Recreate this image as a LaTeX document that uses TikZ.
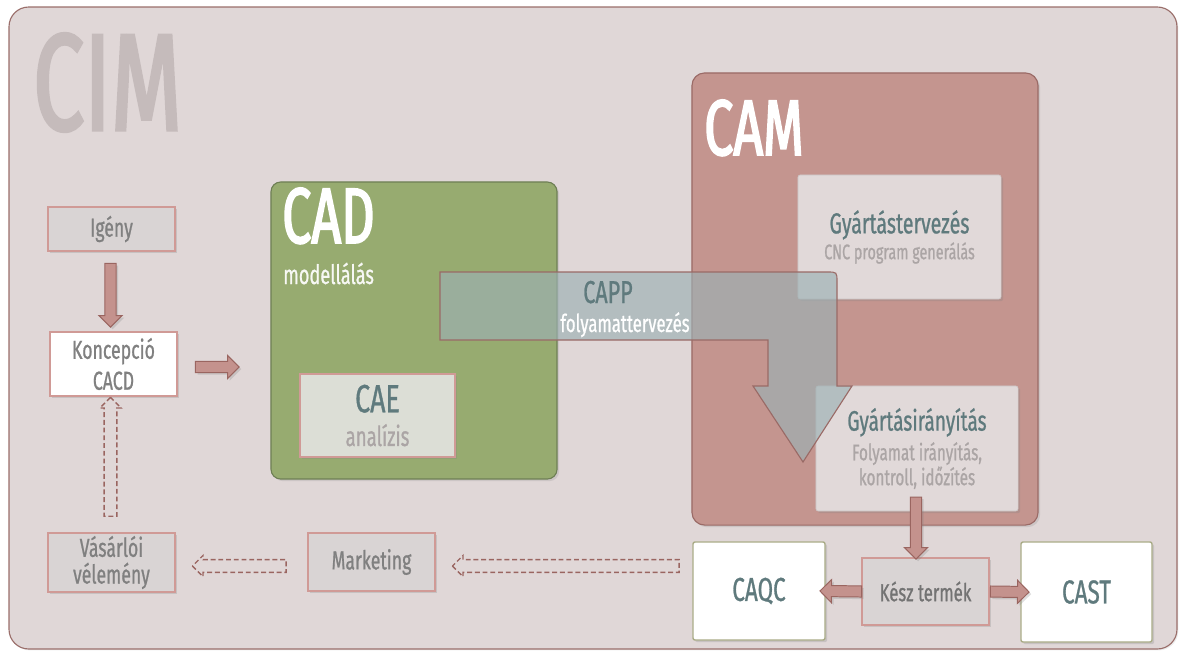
\documentclass[tikz,border=0pt]{standalone}
\usepackage{fontspec}
\setmainfont[FakeStretch=0.68, FakeBold=0.8]{Fira Sans}
\newfontfamily\titlefont[FakeStretch=0.66, FakeBold=2.2]{Fira Sans}
\usetikzlibrary{shapes.arrows, shadows, backgrounds, calc}

\definecolor{cimfill}{HTML}{E0D7D7}
\definecolor{cimline}{HTML}{9A6E6A}
\definecolor{cimtext}{HTML}{C5BBBB}
\definecolor{cadfill}{HTML}{97AB70}
\definecolor{cadline}{HTML}{6E7F55}
\definecolor{camfill}{HTML}{C4958F}
\definecolor{camline}{HTML}{9A6A66}
\definecolor{boxfill}{HTML}{D9D4D4}
\definecolor{boxline}{HTML}{D09A96}
\definecolor{caefill}{HTML}{DCDED6}
\definecolor{subfill}{HTML}{E1D9D9}
\definecolor{olive}{HTML}{A9AB86}
\definecolor{darktext}{HTML}{5F7A7D}
\definecolor{greytext}{HTML}{808080}
\definecolor{lighttext}{HTML}{ABA5A5}
\definecolor{arrowfill}{HTML}{C4928D}
\definecolor{arrowline}{HTML}{9A6560}
\definecolor{cappfill}{HTML}{9CB1B4}

\newcommand{\fsz}[2]{\fontsize{#1}{#2}\selectfont}

% block arrow between two named points
\newcommand{\blockarrow}[3][barrow]{%
  \path let \p1=(#2), \p2=(#3),
    \n1={atan2(\y2-\y1,\x2-\x1)}, \n2={veclen(\x2-\x1,\y2-\y1)} in
    node[#1, minimum height=\n2, rotate=\n1]
      at ($(\p1)!0.5!(\p2)$) {};}

\begin{document}
\begin{tikzpicture}[
    x=0.025cm, y=-0.025cm,
    smallshadow/.style={drop shadow={shadow xshift=1.5pt, shadow yshift=-1.5pt, opacity=0.25}},
    greybox/.style={draw=boxline, fill=boxfill, line width=0.9pt, inner sep=0pt,
      minimum width=3.175cm, align=center, text=greytext, smallshadow},
    whitebox/.style={greybox, fill=white},
    bigbox/.style={rounded corners=7pt, line width=0.8pt, inner sep=0pt,
      drop shadow={shadow xshift=1.5pt, shadow yshift=-1.5pt, opacity=0.2}},
    subbox/.style={fill=subfill, draw=subfill!90!black, line width=0.4pt, inner sep=0pt,
      align=center, rounded corners=1.5pt, smallshadow},
    endbox/.style={fill=white, draw=olive, line width=1pt, inner sep=0pt,
      rounded corners=1.5pt, text=darktext, font=\fsz{23.5}{28}, smallshadow},
    arrowbase/.style={single arrow, draw=arrowline, line width=0.7pt,
      inner sep=0pt, minimum width=0pt},
    barrow/.style={arrowbase, fill=arrowfill, inner ysep=3.6pt,
      single arrow head extend=4.3pt, smallshadow},
    dasharrow/.style={arrowbase, line width=1pt, inner ysep=4pt, single arrow head extend=3pt,
      dash pattern=on 3.5pt off 2pt}
  ]
  \useasboundingbox (0,0) rectangle (1180,653);

  \draw[fill=cimfill, draw=cimline, line width=0.8pt, rounded corners=14pt,
    drop shadow={shadow xshift=1pt, shadow yshift=-1pt, opacity=0.15}]
    (9,7) rectangle (1177,649);
  \node[anchor=base west, text=cimtext, inner sep=0pt, font=\titlefont\fsz{98}{98}] (cim) at (33,130) {CIM};

  % CAD
  \node[bigbox, fill=cadfill, draw=cadline, minimum width=7.15cm, minimum height=7.425cm] (cad) at (414,330.5) {};
  \node[anchor=base west, text=white, inner sep=0pt, font=\titlefont\fsz{56}{56}] (cadtitle) at (282,243) {CAD};
  \node[anchor=base west, text=white!92!cadfill, inner sep=0pt, font=\fsz{19}{20}] (modell) at (283,284) {modellálás};
  \node[subbox, fill=caefill, draw=boxline, line width=0.9pt, rounded corners=0pt,
    minimum width=3.875cm, minimum height=2.075cm] (cae) at (377.5,415.5)
    {{\color{darktext}\fsz{28}{25}CAE}\\[7pt]{\color{lighttext}\fsz{19.5}{25}analízis}};

  % CAM
  \node[bigbox, fill=camfill, draw=camline, rounded corners=9pt, minimum width=8.65cm, minimum height=11.3cm] (cam) at (865,299) {};
  \node[anchor=base west, text=white, inner sep=0pt, font=\titlefont\fsz{56}{56}] (camtitle) at (704,155) {CAM};
  \node[subbox, minimum width=5.075cm, minimum height=3.1cm] (gyartterv) at (899.5,237)
    {{\color{darktext}\fsz{20.5}{18}Gyártástervezés}\\[1pt]{\color{lighttext}\fsz{15}{18}CNC program generálás}};
  \node[subbox, minimum width=5.05cm, minimum height=3.125cm] (gyartiranyit) at (917,448.5)
    {{\color{darktext}\fsz{20}{18}Gyártásirányítás}\\[3pt]{\color{lighttext}\fsz{16}{18}Folyamat irányítás,}\\{\color{lighttext}\fsz{16}{18}kontroll, időzítés}};

  % CAPP
  \draw[fill=cappfill, fill opacity=0.66, draw=camline, line width=0.8pt]
    (440,340) -- (440,272) -- (827,272) .. controls (837,272) .. (837,282)
    -- (837,386) -- (852,386) -- (803,462) -- (753,386) -- (768,386)
    -- (768,340) -- cycle;
  \node[anchor=base, text=darktext, inner sep=0pt, font=\fsz{22.5}{22}] (capp) at (608,303) {CAPP};
  \node[anchor=base, text=white, inner sep=0pt, font=\fsz{17.5}{17}] (cappsub) at (625,332) {folyamattervezés};

  % left column
  \node[greybox, minimum height=1.1cm, font=\fsz{18.5}{22}] (igeny) at (111.5,229) {Igény};
  \node[whitebox, minimum height=1.6cm, font=\fsz{18.5}{22}] (koncepcio) at (113.5,364) {Koncepció\\CACD};
  \node[greybox, minimum height=1.475cm, font=\fsz{18.5}{19}] (vasarloi) at (111.5,562.5) {Vásárlói\\vélemény};
  \node[greybox, minimum height=1.45cm, font=\fsz{18.5}{22}] (marketing) at (371.5,562) {Marketing};

  % products
  \node[endbox, minimum width=3.3cm, minimum height=2.45cm] (caqc) at (759,591) {CAQC};
  \node[greybox, minimum height=1.675cm, text=greytext!90!black, font=\fsz{17.5}{20}] (kesz) at (925.5,591.5) {Kész termék};
  \node[endbox, minimum width=3.275cm, minimum height=2.5cm] (cast) at (1086.5,592) {CAST};

  % arrow ends
  \coordinate (igenyout) at ($(igeny.south)+(-1,9)$);
  \coordinate (koncin) at ($(igenyout |- koncepcio.north)+(0,-7)$);
  \coordinate (koncout) at ($(koncepcio.east)+(15,3)$);
  \coordinate (cadin) at ($(koncout -| cad.west)+(-34,0)$);
  \coordinate (vasout) at ($(igenyout |- vasarloi.north)+(0,-13)$);
  \coordinate (koncback) at ($(igenyout |- koncepcio.south)+(0,4)$);
  \coordinate (marketout) at ($(marketing.west)+(-18,4)$);
  \coordinate (vasin) at ($(marketout -| vasarloi.east)+(20,0)$);
  \coordinate (caqcout) at ($(marketout -| caqc.west)+(-10,0)$);
  \coordinate (marketin) at ($(marketout -| marketing.east)+(20,0)$);
  \coordinate (gyartout) at ($(gyartiranyit.south)+(-1,-17)$);
  \coordinate (keszin) at ($(gyartout |- kesz.north)+(0,-1)$);
  \coordinate (keszleft) at ($(kesz.west)+(3,0)$);
  \coordinate (caqcin) at ($(caqc.east)+(-3,0)$);
  \coordinate (keszright) at ($(kesz.east)+(-2,0)$);
  \coordinate (castin) at ($(cast.west)+(6,0)$);

  \blockarrow{igenyout}{koncin}
  \blockarrow{koncout}{cadin}
  \blockarrow[dasharrow]{vasout}{koncback}
  \blockarrow[dasharrow]{marketout}{vasin}
  \blockarrow[dasharrow]{caqcout}{marketin}
  \blockarrow{gyartout}{keszin}
  \blockarrow{keszleft}{caqcin}
  \blockarrow{keszright}{castin}
\end{tikzpicture}
\end{document}
